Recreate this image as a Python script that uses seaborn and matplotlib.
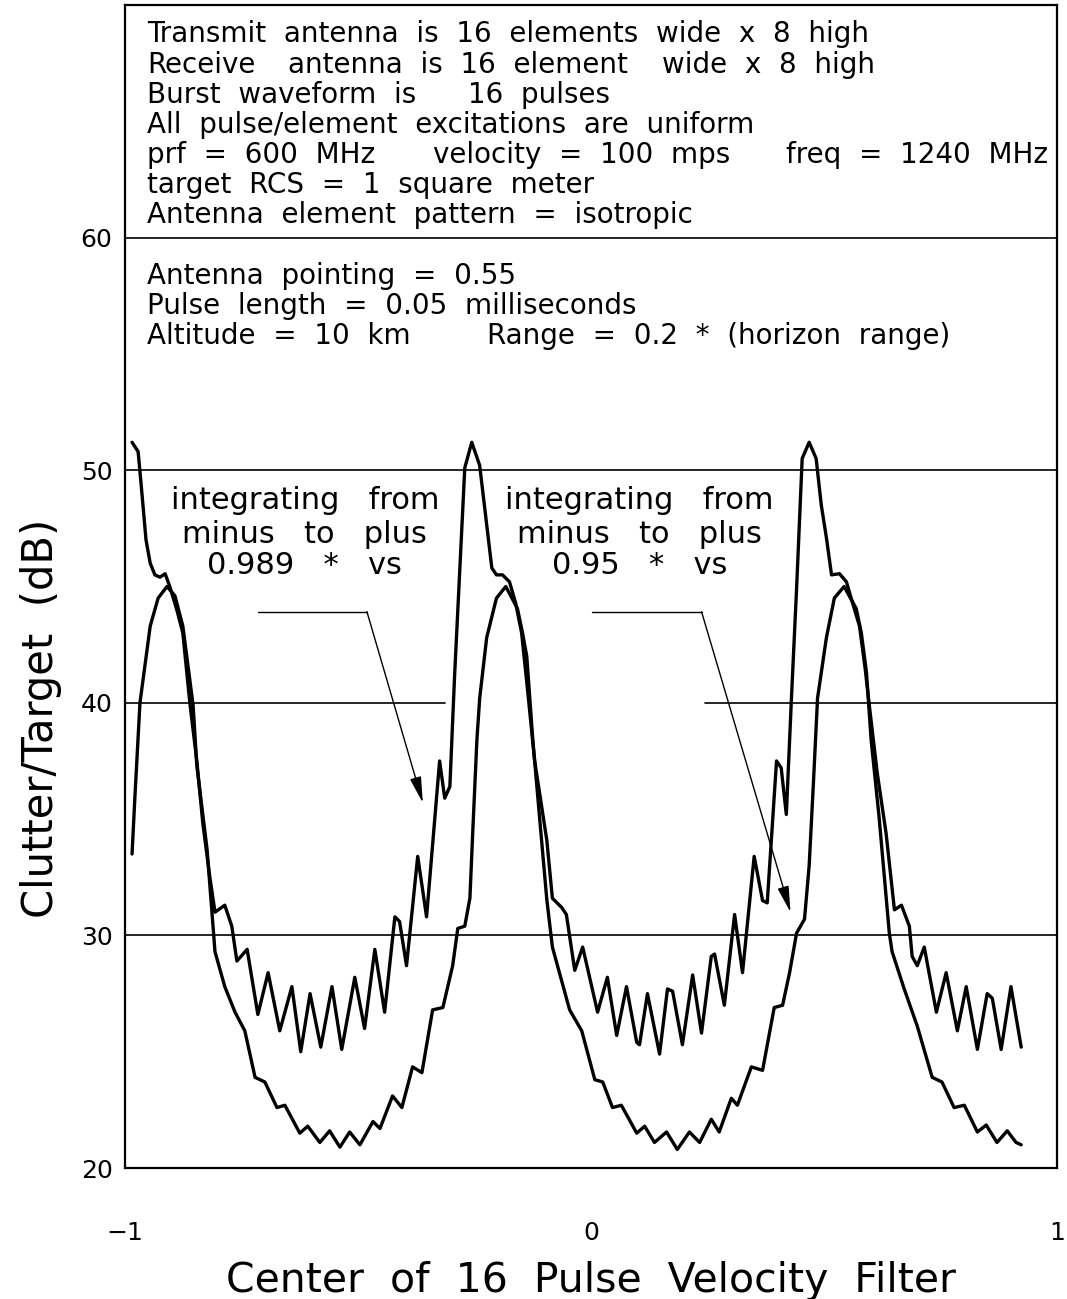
import pandas as pd
import seaborn as sns
import matplotlib.pyplot as plt

# curve integrated over 0.989 * vs (upper, spiky curve)
a_x = [-0.985, -0.972, -0.966, -0.955, -0.946, -0.936, -0.925, -0.914, -0.904, -0.889,
       -0.876, -0.861, -0.846, -0.833, -0.818, -0.807, -0.786, -0.771, -0.760, -0.738,
       -0.715, -0.693, -0.668, -0.642, -0.623, -0.603, -0.580, -0.556, -0.535, -0.507,
       -0.486, -0.464, -0.443, -0.421, -0.411, -0.396, -0.372, -0.353, -0.325, -0.314,
       -0.303, -0.293, -0.282, -0.271, -0.256, -0.239, -0.226, -0.213, -0.203, -0.190,
       -0.175, -0.162, -0.149, -0.136, -0.121, -0.108, -0.095, -0.083, -0.063, -0.053,
       -0.035, -0.018, 0.014, 0.035, 0.055, 0.076, 0.098, 0.104, 0.121, 0.147,
       0.164, 0.175, 0.196, 0.218, 0.237, 0.258, 0.265, 0.286, 0.308, 0.325,
       0.350, 0.368, 0.378, 0.398, 0.408, 0.419, 0.430, 0.441, 0.453, 0.468,
       0.483, 0.494, 0.505, 0.516, 0.533, 0.548, 0.561, 0.576, 0.588, 0.597,
       0.614, 0.633, 0.651, 0.666, 0.683, 0.689, 0.700, 0.715, 0.741, 0.762,
       0.786, 0.805, 0.829, 0.850, 0.861, 0.880, 0.901, 0.923]
a_y = [51.2, 50.8, 49.5, 47.0, 46.0, 45.5, 45.4, 45.55, 45.0, 44.0,
       43.0, 40.0, 37.5, 34.8, 32.5, 31.0, 31.3, 30.4, 28.9, 29.4,
       26.6, 28.4, 25.9, 27.8, 25.0, 27.5, 25.2, 27.8, 25.1, 28.2,
       26.0, 29.4, 26.7, 30.8, 30.6, 28.7, 33.4, 30.8, 37.5, 35.9,
       36.4, 41.1, 45.6, 50.1, 51.2, 50.2, 48.0, 45.8, 45.5, 45.5,
       45.2, 44.3, 43.0, 40.5, 37.5, 35.8, 34.1, 31.6, 31.2, 30.9,
       28.5, 29.5, 26.7, 28.2, 25.7, 27.8, 25.4, 25.3, 27.5, 24.9,
       27.7, 27.6, 25.3, 28.3, 25.8, 29.1, 29.2, 27.0, 30.9, 28.4,
       33.4, 31.5, 31.4, 37.5, 37.2, 35.2, 40.2, 44.9, 50.5, 51.2,
       50.5, 48.5, 47.1, 45.5, 45.55, 45.2, 44.3, 43.3, 41.5, 39.9,
       37.0, 34.4, 31.1, 31.3, 30.4, 29.1, 28.7, 29.5, 26.7, 28.4,
       25.9, 27.8, 25.1, 27.5, 27.3, 25.1, 27.8, 25.2]

# curve integrated over 0.95 * vs (lower, smoother curve)
b_x = [-0.985, -0.979, -0.968, -0.946, -0.929, -0.910, -0.893, -0.876, -0.854, -0.846,
       -0.824, -0.807, -0.786, -0.764, -0.743, -0.721, -0.700, -0.674, -0.657, -0.625,
       -0.608, -0.582, -0.561, -0.539, -0.518, -0.496, -0.468, -0.453, -0.426, -0.406,
       -0.383, -0.363, -0.340, -0.318, -0.297, -0.286, -0.271, -0.260, -0.254, -0.245,
       -0.239, -0.224, -0.203, -0.183, -0.158, -0.147, -0.138, -0.125, -0.108, -0.095,
       -0.083, -0.046, -0.020, 0.008, 0.025, 0.046, 0.065, 0.098, 0.115, 0.136,
       0.162, 0.185, 0.211, 0.233, 0.258, 0.275, 0.301, 0.314, 0.344, 0.368,
       0.393, 0.411, 0.426, 0.441, 0.458, 0.468, 0.477, 0.486, 0.505, 0.522,
       0.543, 0.569, 0.580, 0.591, 0.601, 0.618, 0.640, 0.646, 0.672, 0.700,
       0.732, 0.753, 0.779, 0.801, 0.829, 0.848, 0.871, 0.893, 0.912, 0.923]
b_y = [33.5, 35.9, 40.0, 43.3, 44.5, 45.0, 44.6, 43.3, 39.9, 37.3,
       33.7, 29.3, 27.8, 26.7, 25.9, 23.9, 23.7, 22.6, 22.7, 21.5,
       21.8, 21.1, 21.6, 20.9, 21.55, 21.0, 22.0, 21.7, 23.1, 22.6,
       24.35, 24.1, 26.8, 26.9, 28.7, 30.3, 30.4, 31.6, 34.4, 38.4,
       40.2, 42.8, 44.5, 45.0, 44.05, 43.0, 42.0, 38.4, 34.5, 31.55,
       29.5, 26.8, 25.9, 23.8, 23.7, 22.6, 22.7, 21.5, 21.8, 21.1,
       21.55, 20.8, 21.55, 21.1, 22.1, 21.55, 23.0, 22.7, 24.35, 24.2,
       26.9, 27.0, 28.4, 30.1, 30.7, 33.0, 36.5, 40.2, 42.8, 44.5,
       45.0, 44.05, 43.0, 41.3, 38.4, 35.1, 30.1, 29.3, 27.7, 26.1,
       23.9, 23.7, 22.6, 22.7, 21.55, 21.85, 21.1, 21.6, 21.1, 21.0]

y_ticks = [20, 30, 40, 50, 60]
x_ticks = [-1, 0, 1]

info_top = [
    "Transmit  antenna  is  16  elements  wide  x  8  high",
    "All  pulse/element  excitations  are  uniform",
    "target  RCS  =  1  square  meter",
    "Antenna  element  pattern  =  isotropic",
]
info_bottom = [
    "Antenna  pointing  =  0.55",
    "Pulse  length  =  0.05  milliseconds",
]

sns.set_style("white")
plt.rcParams['font.family'] = ['DejaVu Sans']
plt.rcParams.update({"text.color": "black", "axes.labelcolor": "black",
                     "xtick.color": "black", "ytick.color": "black"})

fig = plt.figure(figsize=(10.67, 12.99), dpi=100)
ax = fig.add_axes([0.1172, 0.1008, 0.8735, 0.8954])

df_a = pd.DataFrame({"x": a_x, "y": a_y})
df_b = pd.DataFrame({"x": b_x, "y": b_y})
sns.lineplot(data=df_a, x="x", y="y", sort=False, estimator=None, color="black", lw=2.4, ax=ax)
sns.lineplot(data=df_b, x="x", y="y", sort=False, estimator=None, color="black", lw=2.4, ax=ax)

# horizontal grid lines (the 40 line is broken in the middle)
for yv in [30, 50, 60]:
    ax.axhline(yv, color="black", lw=1.2, zorder=1)
ax.axhline(40, xmax=0.343, color="black", lw=1.2, zorder=1)
ax.axhline(40, xmin=0.622, color="black", lw=1.2, zorder=1)

ax.set_xlim(-1, 1)
ax.set_ylim(20, 70)
ax.set_xticks(x_ticks)
ax.set_yticks(y_ticks)
ax.tick_params(axis="both", length=0, labelsize=18)
ax.tick_params(axis="y", pad=9)
ax.tick_params(axis="x", pad=38)
for s in ax.spines.values():
    s.set_visible(True)
    s.set_color("black")
    s.set_linewidth(1.6)

ax.set_xlabel("Center  of  16  Pulse  Velocity  Filter", fontsize=29.5)
ax.xaxis.set_label_coords(0.5, -0.080)
ax.set_ylabel("Clutter/Target  (dB)", fontsize=30)
ax.yaxis.set_label_coords(-0.068, 0.387)

# parameter box text
fs = 20
xl = -0.953
ax.text(xl, 68.75, info_top[0], fontsize=fs, va="center")
ax.text(xl, 67.41, "Receive", fontsize=fs, va="center")
ax.text(-0.651, 67.41, "antenna  is  16  element", fontsize=fs, va="center")
ax.text(0.153, 67.41, "wide  x  8  high", fontsize=fs, va="center")
ax.text(xl, 66.12, "Burst  waveform  is", fontsize=fs, va="center")
ax.text(-0.265, 66.12, "16  pulses", fontsize=fs, va="center")
ax.text(xl, 64.83, info_top[1], fontsize=fs, va="center")
ax.text(xl, 63.53, "prf  =  600  MHz", fontsize=fs, va="center")
ax.text(-0.340, 63.53, "velocity  =  100  mps", fontsize=fs, va="center")
ax.text(0.419, 63.53, "freq  =  1240  MHz", fontsize=fs, va="center")
ax.text(xl, 62.24, info_top[2], fontsize=fs, va="center")
ax.text(xl, 60.95, info_top[3], fontsize=fs, va="center")
ax.text(xl, 58.36, info_bottom[0], fontsize=fs, va="center")
ax.text(xl, 57.07, info_bottom[1], fontsize=fs, va="center")
ax.text(xl, 55.78, "Altitude  =  10  km", fontsize=fs, va="center")
ax.text(-0.224, 55.78, "Range  =  0.2  *  (horizon  range)", fontsize=fs, va="center")

# annotations with leader arrows
for cx, val in [(-0.614, "0.989"), (0.104, "0.95")]:
    ax.text(cx, 48.7, "integrating   from", fontsize=22, ha="center", va="center")
    ax.text(cx, 47.25, "minus   to   plus", fontsize=22, ha="center", va="center")
    ax.text(cx, 45.9, f"{val}   *   vs", fontsize=22, ha="center", va="center")

for x0, x1, tip in [(-0.715, -0.481, (-0.361, 35.7)), (0.003, 0.237, (0.428, 31.0))]:
    ax.plot([x0, x1], [43.92, 43.92], color="black", lw=1.0)
    ax.annotate("", xy=tip, xytext=(x1, 43.92),
                arrowprops=dict(arrowstyle="-|>,head_length=1.6,head_width=0.35",
                                color="black", lw=1.0, shrinkA=0, shrinkB=0))

fig.savefig("out.png", dpi=100)
